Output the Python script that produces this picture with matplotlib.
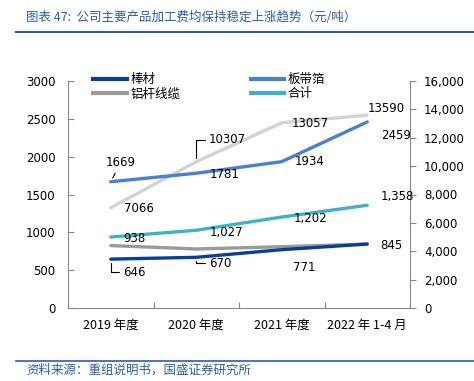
import matplotlib
matplotlib.use("Agg")
import matplotlib.pyplot as plt
from matplotlib.lines import Line2D

plt.rcParams['font.family'] = ['DejaVu Sans', 'Noto Sans CJK SC']

# data (元/吨)
years = ['2019 年度', '2020 年度', '2021 年度', '2022 年 1-4 月']
rod = [646, 670, 771, 845]             # 棒材
strip = [1669, 1781, 1934, 2459]       # 板带箔
cable = [825, 780, 810, 845]           # 铝杆线缆
total = [938, 1027, 1202, 1358]        # 合计
cable_rhs = [7066, 10307, 13057, 13590]  # right axis series

c_rod = '#0a3f96'
c_strip = '#4a80cc'
c_cable = '#9a9a9a'
c_total = '#3fb1c9'
c_rhs = '#d3d3d3'
blue = '#2f5ea8'
cjk = ['Noto Sans CJK SC', 'DejaVu Sans']

fig = plt.figure(figsize=(4.74, 3.81), dpi=100)
ax = fig.add_axes([68/474, 1-308/381, (410-68)/474, (308-81)/381])
ax2 = ax.twinx()

x = list(range(len(years)))
lw = 2.4
ax2.plot(x, cable_rhs, color=c_rhs, lw=lw, solid_capstyle='round', zorder=1)
ax.plot(x, strip, color=c_strip, lw=lw, solid_capstyle='round')
ax.plot(x, total, color=c_total, lw=lw, solid_capstyle='round')
ax.plot(x, cable, color=c_cable, lw=lw, solid_capstyle='round')
ax.plot(x, rod, color=c_rod, lw=lw, solid_capstyle='round')
ax.set_zorder(ax2.get_zorder() + 1)
ax.patch.set_visible(False)

ax.set_xlim(-0.5, 3.5)
ax.set_ylim(0, 3000)
ax2.set_ylim(0, 16000)
ax.set_yticks(range(0, 3001, 500))
ax2.set_yticks(range(0, 16001, 2000))
ax2.set_yticklabels([f'{v:,}' for v in range(0, 16001, 2000)])
ax.set_xticks([0.5, 1.5, 2.5])
ax.set_xticklabels([])
ax.set_xticks(x, minor=True)
ax.set_xticklabels(years, minor=True, family=cjk)
ax.tick_params(axis='x', which='major', direction='in', length=4, color='#888888')
ax.tick_params(axis='x', which='minor', length=0, pad=8, labelsize=9)
ax.tick_params(axis='y', direction='in', length=4, color='#888888', labelsize=8.5, pad=9)
ax2.tick_params(axis='y', direction='out', length=4, color='#888888', labelsize=8.5, pad=6)
for a in (ax, ax2):
    a.spines['top'].set_visible(False)
    for s in ('left', 'right', 'bottom'):
        a.spines[s].set_color('#888888')
ax.spines['right'].set_visible(False)
ax2.spines['left'].set_visible(False)
ax2.spines['bottom'].set_visible(False)

# data labels: offsets in pixels
def labels(a, vals, offs, fmt='{}', lead=None):
    for i, (v, (dx, dy)) in enumerate(zip(vals, offs)):
        kw = {}
        if lead and i in lead:
            kw['arrowprops'] = dict(arrowstyle='-', color='black', lw=0.8,
                                    shrinkA=1, shrinkB=3, connectionstyle=lead[i])
        a.annotate(fmt.format(v), (i, v), xytext=(dx, dy), textcoords='offset pixels',
                   ha='center', va='center', fontsize=8.5, **kw)

labels(ax, strip, [(10, 19), (28, -1), (28, 0), (29, -14)],
       lead={0: 'arc3'})
labels(ax2, cable_rhs, [(28, -1), (31, 22), (28, -1), (19, 7)],
       lead={1: 'angle,angleA=0,angleB=90,rad=0'})
labels(ax, total, [(24, -1), (30, -2), (29, -1), (30, 9)], fmt='{:,}')
labels(ax, rod, [(24, -13), (24, -6), (23, -18), (24, -1)],
       lead={0: 'angle,angleA=0,angleB=90,rad=0', 1: 'angle,angleA=0,angleB=90,rad=0'})

handles = [Line2D([], [], color=c_rod, lw=3), Line2D([], [], color=c_cable, lw=3),
           Line2D([], [], color=c_strip, lw=3), Line2D([], [], color=c_total, lw=3)]
names = ['棒材', '铝杆线缆', '板带箔', '合计']
fig.legend(handles, names, ncol=2, loc='upper left', bbox_to_anchor=(93/474, 1-73/381),
           frameon=False, borderpad=0, borderaxespad=0, handlelength=2.7,
           handletextpad=0.3, columnspacing=5.6, labelspacing=0.1,
           prop={'family': cjk, 'size': 9})

fig.text(26/474, 1-17/381, '图表 47:  公司主要产品加工费均保持稳定上涨趋势（元/吨）',
         color=blue, fontsize=9, style='italic', family=cjk, va='center')
fig.add_artist(Line2D([16/474, 1], [1-32/381, 1-32/381], color=blue, lw=1.5))
fig.add_artist(Line2D([16/474, 1], [1-361/381, 1-361/381], color=blue, lw=1.2))
fig.text(26/474, 1-370/381, '资料来源：重组说明书，国盛证券研究所',
         color=blue, fontsize=9, style='italic', family=cjk, va='center')

fig.savefig('out.png', dpi=100)
